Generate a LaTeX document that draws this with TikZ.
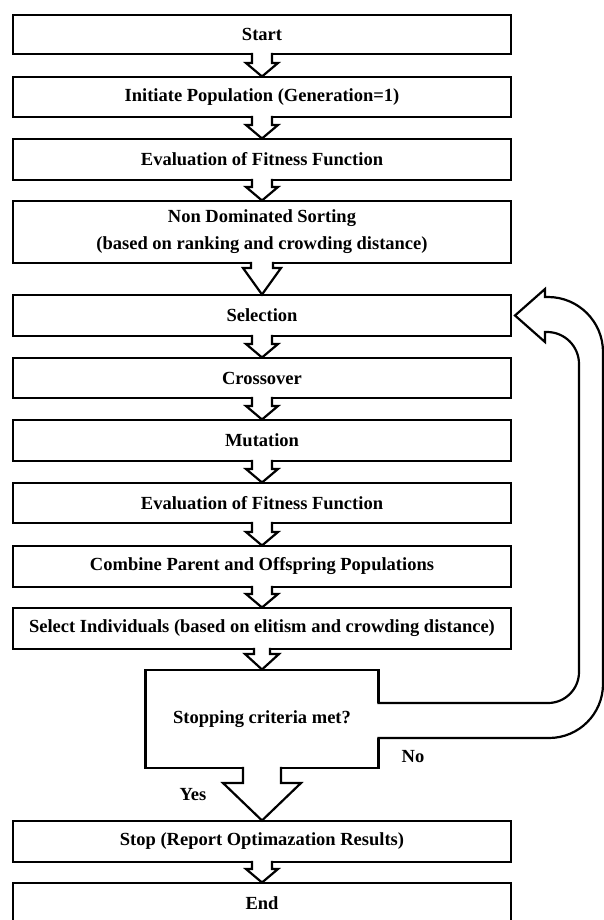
\documentclass[tikz,border=0pt]{standalone}
\usepackage{fontspec}
\setmainfont{Liberation Serif}
\usetikzlibrary{calc}
\tikzset{
  box/.style={draw, line width=2.2pt, minimum width=498pt, inner sep=0pt, outer sep=0pt,
    font=\bfseries\fontsize{18.5}{27}\selectfont, align=center},
  barrowshape/.style={draw, fill=white, line width=2.2pt, line join=miter},
  lbl/.style={font=\bfseries\fontsize{18.5}{22}\selectfont, inner sep=0pt}
}
\newcommand\blockarrow[5]{%
  \fill[white] ($(#1.south)+(-#3,1.6)$) rectangle ($(#1.south)+(#3,-1.2)$);
  \filldraw[barrowshape] ($(#1.south)+(-#3,1.1)$) -- ($(#2.north)+(-#3,#5)$) -- ($(#2.north)+(-#4,#5)$)
    -- ($(#2.north)+(0,0.5)$) -- ($(#2.north)+(#4,#5)$) -- ($(#2.north)+(#3,#5)$) -- ($(#1.south)+(#3,1.1)$);}
\begin{document}
\begin{tikzpicture}[x=1pt,y=1pt]
\useasboundingbox (0,0) rectangle (604,-920);
\clip (0,0) rectangle (604,-920);
\node[box, minimum height=39pt] (start) at (262,-34.5) {Start};
\node[box, minimum height=40pt] (init) at (262,-97) {Initiate Population (Generation=1)};
\node[box, minimum height=41pt] (eval1) at (262,-159.5) {Evaluation of Fitness Function};
\node[box, minimum height=62pt] (nds) at (262,-232) {Non Dominated Sorting\\(based on ranking and crowding distance)};
\node[box, minimum height=41pt] (sel) at (262,-315.5) {Selection};
\node[box, minimum height=40pt] (cross) at (262,-378) {Crossover};
\node[box, minimum height=41pt] (mut) at (262,-440.5) {Mutation};
\node[box, minimum height=40pt] (eval2) at (262,-503) {Evaluation of Fitness Function};
\node[box, minimum height=41pt] (comb) at (262,-566.5) {Combine Parent and Offspring Populations};
\node[box, minimum height=41pt] (seli) at (262,-628.5) {Select Individuals (based on elitism and crowding distance)};
\node[box, minimum width=233pt, minimum height=98pt] (dec) at (262,-719) {Stopping criteria met?};
\node[box, minimum height=41pt] (stop) at (262,-841.5) {Stop (Report Optimazation Results)};
\node[box, minimum height=40pt] (end) at (262,-903) {End};
\node[lbl] (no) at (413,-757) {No};
\node[lbl] (yes) at (193,-795) {Yes};
\blockarrow{start}{init}{10}{16}{14}
\blockarrow{init}{eval1}{10}{16}{14}
\blockarrow{eval1}{nds}{10}{16}{14}
\blockarrow{nds}{sel}{11}{19}{27}
\blockarrow{sel}{cross}{10}{16}{14}
\blockarrow{cross}{mut}{10}{16}{14}
\blockarrow{mut}{eval2}{10}{16}{14}
\blockarrow{eval2}{comb}{10}{16}{14}
\blockarrow{comb}{seli}{10}{16}{14}
\blockarrow{seli}{dec}{8}{17}{16}
\blockarrow{dec}{stop}{19}{39}{38}
\blockarrow{stop}{end}{10}{16}{14}
\coordinate (tip) at ($(sel.east)+(4,0)$);
\fill[white] ($(dec.east)+(-1.6,16)$) rectangle ($(dec.east)+(1.2,-19)$);
\filldraw[barrowshape] ($(dec.east)+(-1.1,16)$) -- (548,-703) arc[start angle=-90,end angle=0,radius=31]
  -- (579,-364) arc[start angle=0,end angle=90,radius=32] -- (545,-332) -- (545,-342) -- (tip)
  -- (545,-289) -- (545,-297) -- (548,-297) arc[start angle=90,end angle=0,radius=55]
  -- (603,-684) arc[start angle=0,end angle=-90,radius=54] -- ($(dec.east)+(-1.1,-19)$);
\end{tikzpicture}
\end{document}
